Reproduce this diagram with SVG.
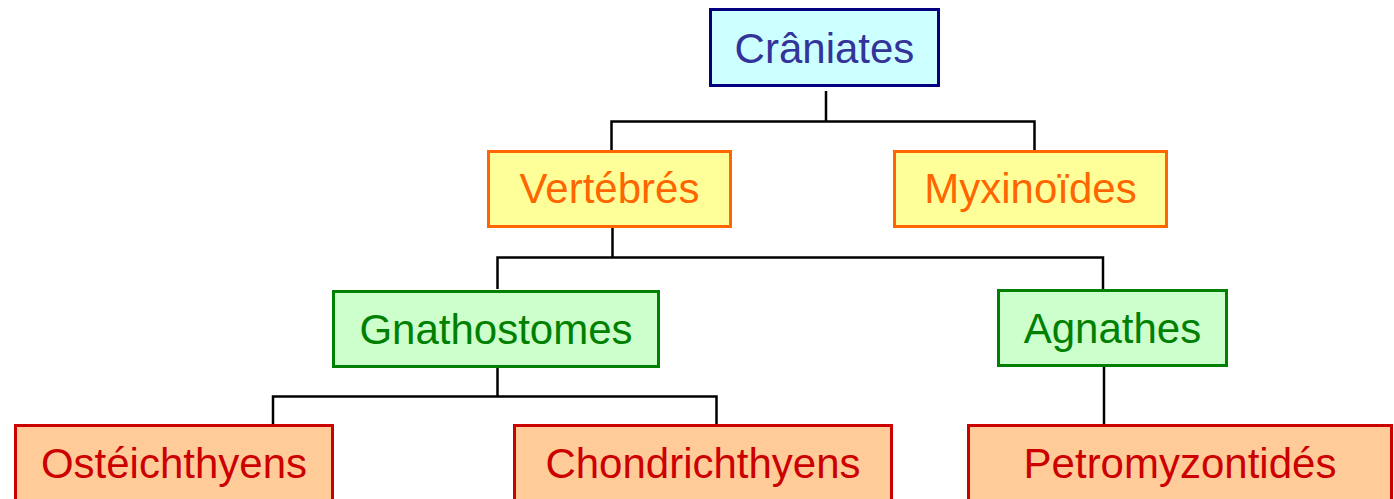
<svg xmlns="http://www.w3.org/2000/svg" width="1394" height="499" viewBox="0 0 1394 499">
<style>
rect{stroke-width:3}
text{font-family:"Liberation Sans",Arial,sans-serif;font-size:42px;text-anchor:middle}
.l1 rect{fill:#CCFFFF;stroke:#000080}
.l1 text{fill:#333399}
.l2 rect{fill:#FFFF99;stroke:#FF6600}
.l2 text{fill:#FF6600}
.l3 rect{fill:#CCFFCC;stroke:#008000}
.l3 text{fill:#008000}
.l4 rect{fill:#FFCC99;stroke:#CC0000}
.l4 text{fill:#CC0000}
#connectors path{fill:none;stroke:#000;stroke-width:2.5}
</style>
<rect width="1394" height="499" fill="#fff"/>
<g id="connectors">
<path d="M826 91V121.5M611.5 150V121.5H1034.5V150"/>
<path d="M612.5 228V257.5M497.5 289V257.5H1103V289"/>
<path d="M497.5 368V396.5M273 424V396.5H716.5V424"/>
<path d="M1104 367V424"/>
</g>
<g id="craniates" class="l1"><rect x="710.5" y="9.5" width="228" height="76"/><text x="824.5" y="63">Crâniates</text></g>
<g id="vertebres" class="l2"><rect x="488.5" y="151.5" width="242" height="75"/><text x="609.5" y="203">Vertébrés</text></g>
<g id="myxinoides" class="l2"><rect x="894.5" y="151.5" width="272" height="75"/><text x="1030.5" y="203">Myxinoïdes</text></g>
<g id="gnathostomes" class="l3"><rect x="333.5" y="291.5" width="325" height="75"/><text x="496" y="344">Gnathostomes</text></g>
<g id="agnathes" class="l3"><rect x="998.5" y="290.5" width="228" height="75"/><text x="1112.5" y="343">Agnathes</text></g>
<g id="osteichthyens" class="l4"><rect x="15.5" y="425.5" width="317" height="90"/><text x="174" y="478">Ostéichthyens</text></g>
<g id="chondrichthyens" class="l4"><rect x="514.5" y="425.5" width="377" height="90"/><text x="703" y="478">Chondrichthyens</text></g>
<g id="petromyzontides" class="l4"><rect x="968.5" y="425.5" width="423" height="90"/><text x="1180" y="478">Petromyzontidés</text></g>
</svg>
